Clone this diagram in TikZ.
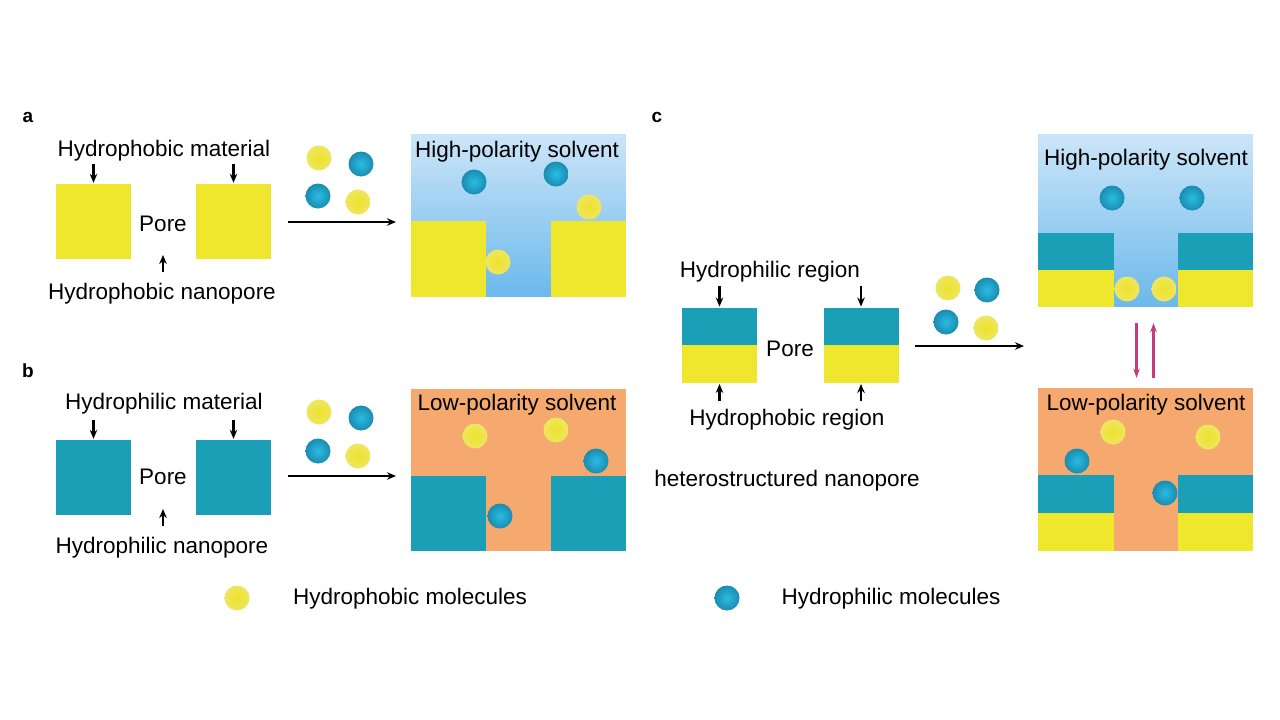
\documentclass[tikz,border=0pt]{standalone}
\usepackage{fontspec}
\setmainfont{Liberation Sans}
\usetikzlibrary{arrows.meta}
\definecolor{yel}{HTML}{EEE72C}
\definecolor{tealb}{HTML}{1B9FB6}
\definecolor{orng}{HTML}{F6A96E}
\definecolor{ltb}{HTML}{CBE5F8}
\definecolor{dkb}{HTML}{6CB9EC}
\definecolor{molbin}{HTML}{2BBCE4}
\definecolor{molbout}{HTML}{1A8CB0}
\definecolor{molyin}{HTML}{EDE22A}
\definecolor{molyout}{HTML}{EEE660}
\definecolor{pinkarr}{HTML}{C23C7E}
\tikzset{
  lbl/.style={font=\fontsize{22.5}{26}\selectfont, inner sep=0pt, text=black},
  panel/.style={font=\fontsize{19}{22}\selectfont\bfseries, inner sep=0pt},
  ysq/.style={fill=yel, draw=none, minimum width=75pt, minimum height=75pt, inner sep=0pt},
  tsq/.style={fill=tealb, draw=none, minimum width=75pt, minimum height=75pt, inner sep=0pt},
  yhalf/.style={fill=yel, draw=none, minimum width=75pt, minimum height=37.5pt, inner sep=0pt},
  thalf/.style={fill=tealb, draw=none, minimum width=75pt, minimum height=37.5pt, inner sep=0pt},
  hibox/.style={draw=none, minimum width=215pt, inner sep=0pt},
  lobox/.style={draw=none, fill=orng, minimum width=215pt, inner sep=0pt},
  ymol/.style={circle, minimum size=25pt, inner sep=0pt, inner color=molyin, outer color=molyout},
  bmol/.style={circle, minimum size=25pt, inner sep=0pt, inner color=molbin, outer color=molbout},
  arr/.style={-{Stealth[length=9pt,width=7.5pt]}, line width=2.2pt, black},
  parr/.style={-{Stealth[length=9pt,width=6.5pt]}, line width=2.2pt, pinkarr}
}
% vertical gradient drawn as strips: x1,y1 (top), x2,y2 (bottom)
\newcommand{\gradstrips}[4]{%
  \foreach \i in {0,...,59}{%
    \pgfmathsetmacro\gya{#2+\i*(#4-#2)/60}%
    \pgfmathsetmacro\gyb{min(#2+(\i+1)*(#4-#2)/60+0.8,#4)}%
    \pgfmathsetmacro\gpc{\i*100/59}%
    \fill[dkb!\gpc!ltb] (#1,\gya) rectangle (#3,\gyb);
  }}
\begin{document}
\begin{tikzpicture}[x=1pt, y=-1pt]
\useasboundingbox (0,0) rectangle (1280,720);
\fill[white] (0,0) rectangle (1280,720);

% ---------- panel a ----------
\node[panel] (la) at (28,117) {a};
\node[lbl] (tA1) at (164,151) {Hydrophobic material};
\node[ysq] (a1) at (93.5,221.5) {};
\node[ysq] (a2) at (233.5,221.5) {};
\node[lbl] (pA) at (163,224) {Pore};
\node[lbl] (tA2) at (162,294) {Hydrophobic nanopore};
\draw[arr] ([yshift=20pt]a1.north) -- ([yshift=1pt]a1.north);
\draw[arr] ([yshift=20pt]a2.north) -- ([yshift=1pt]a2.north);
\coordinate (poreA) at (163,255);
\coordinate (poreAt) at (163,272);
\draw[arr] (poreAt) -- (poreA);
\node[ymol] (ma1) at (319,158) {};
\node[bmol] (ma2) at (361,164) {};
\node[bmol] (ma3) at (318,196) {};
\node[ymol] (ma4) at (358,202) {};
\coordinate (arA1) at (288,222);
\coordinate (arA2) at (396,222);
\draw[arr] (arA1) -- (arA2);
\gradstrips{411}{134}{626}{297}
\node[hibox, minimum height=163pt] (hpA) at (518.5,215.5) {};
\node[ysq, minimum height=76pt] (ba1) at (448.5,259) {};
\node[ysq, minimum height=76pt] (ba2) at (588.5,259) {};
\node[lbl] (hA) at (517,152) {High-polarity solvent};
\node[bmol] (sa1) at (474,182) {};
\node[bmol] (sa2) at (556,174) {};
\node[ymol] (sa3) at (589,207) {};
\node[ymol] (sa4) at (498,262) {};

% ---------- panel b ----------
\node[panel] (lb) at (28,371) {b};
\node[lbl] (tB1) at (164,404) {Hydrophilic material};
\node[tsq] (b1) at (93.5,477.5) {};
\node[tsq] (b2) at (233.5,477.5) {};
\node[lbl] (pB) at (163,477) {Pore};
\node[lbl] (tB2) at (162,548) {Hydrophilic nanopore};
\draw[arr] ([yshift=20pt]b1.north) -- ([yshift=1pt]b1.north);
\draw[arr] ([yshift=20pt]b2.north) -- ([yshift=1pt]b2.north);
\coordinate (poreB) at (163,509);
\coordinate (poreBt) at (163,526);
\draw[arr] (poreBt) -- (poreB);
\node[ymol] (mb1) at (319,412) {};
\node[bmol] (mb2) at (361,418) {};
\node[bmol] (mb3) at (318,451) {};
\node[ymol] (mb4) at (358,456) {};
\coordinate (arB1) at (288,476);
\coordinate (arB2) at (396,476);
\draw[arr] (arB1) -- (arB2);
\node[lobox, minimum height=162pt] (lpB) at (518.5,470) {};
\node[tsq, minimum height=75pt] (bb1) at (448.5,513.5) {};
\node[tsq, minimum height=75pt] (bb2) at (588.5,513.5) {};
\node[lbl] (hB) at (517,405) {Low-polarity solvent};
\node[ymol] (sb1) at (475,436) {};
\node[ymol] (sb2) at (556,430) {};
\node[bmol] (sb3) at (596,461) {};
\node[bmol] (sb4) at (500,516) {};

% ---------- panel c ----------
\node[panel] (lc) at (657,117) {c};
\node[lbl] (tC1) at (770,272) {Hydrophilic region};
\node[thalf] (c1t) at (719.5,326.5) {};
\node[yhalf] (c1y) at (719.5,364) {};
\node[thalf] (c2t) at (861,326.5) {};
\node[yhalf] (c2y) at (861,364) {};
\node[lbl] (pC) at (790,349) {Pore};
\node[lbl] (tC2) at (787,420) {Hydrophobic region};
\node[lbl] (tC3) at (787,481) {heterostructured nanopore};
\draw[arr] ([yshift=22pt]c1t.north) -- ([yshift=1pt]c1t.north);
\draw[arr] ([yshift=22pt]c2t.north) -- ([yshift=1pt]c2t.north);
\draw[arr] ([yshift=-18pt]c1y.south) -- ([yshift=-1pt]c1y.south);
\draw[arr] ([yshift=-18pt]c2y.south) -- ([yshift=-1pt]c2y.south);
\node[ymol] (mc1) at (948,288) {};
\node[bmol] (mc2) at (987,290) {};
\node[bmol] (mc3) at (946,322) {};
\node[ymol] (mc4) at (986,328) {};
\coordinate (arC1) at (915,346);
\coordinate (arC2) at (1024,346);
\draw[arr] (arC1) -- (arC2);
% high polarity
\gradstrips{1038}{134}{1253}{307}
\node[hibox, minimum height=173pt] (hpC) at (1145.5,220.5) {};
\node[thalf, minimum width=76pt, minimum height=37pt] (hc1t) at (1076,251.5) {};
\node[yhalf, minimum width=76pt, minimum height=37pt] (hc1y) at (1076,288.5) {};
\node[thalf, minimum height=37pt] (hc2t) at (1215.5,251.5) {};
\node[yhalf, minimum height=37pt] (hc2y) at (1215.5,288.5) {};
\node[lbl] (hC) at (1146,160) {High-polarity solvent};
\node[bmol] (sc1) at (1112,198) {};
\node[bmol] (sc2) at (1192,198) {};
\node[ymol] (sc3) at (1127,289) {};
\node[ymol] (sc4) at (1164,289) {};
% low polarity
\node[lobox, minimum height=163pt] (lpC) at (1145.5,469.5) {};
\node[thalf, minimum width=76pt, minimum height=38pt] (lc1t) at (1076,494) {};
\node[yhalf, minimum width=76pt, minimum height=38pt] (lc1y) at (1076,532) {};
\node[thalf, minimum height=38pt] (lc2t) at (1215.5,494) {};
\node[yhalf, minimum height=38pt] (lc2y) at (1215.5,532) {};
\node[lbl] (hC2) at (1146,405) {Low-polarity solvent};
\node[ymol] (sc5) at (1113,432) {};
\node[ymol] (sc6) at (1208,437) {};
\node[bmol] (sc7) at (1077,461) {};
\node[bmol] (sc8) at (1165,493) {};
% equilibrium arrows
\draw[parr] ([xshift=-9pt,yshift=-16pt]hpC.south) -- ([xshift=-9pt,yshift=10pt]lpC.north);
\draw[parr] ([xshift=8pt,yshift=10pt]lpC.north) -- ([xshift=8pt,yshift=-16pt]hpC.south);

% ---------- legend ----------
\node[ymol] (lg1) at (237,598) {};
\node[lbl] (lg1t) at (410,599) {Hydrophobic molecules};
\node[bmol] (lg2) at (727,598) {};
\node[lbl] (lg2t) at (891,599) {Hydrophilic molecules};
\end{tikzpicture}
\end{document}
